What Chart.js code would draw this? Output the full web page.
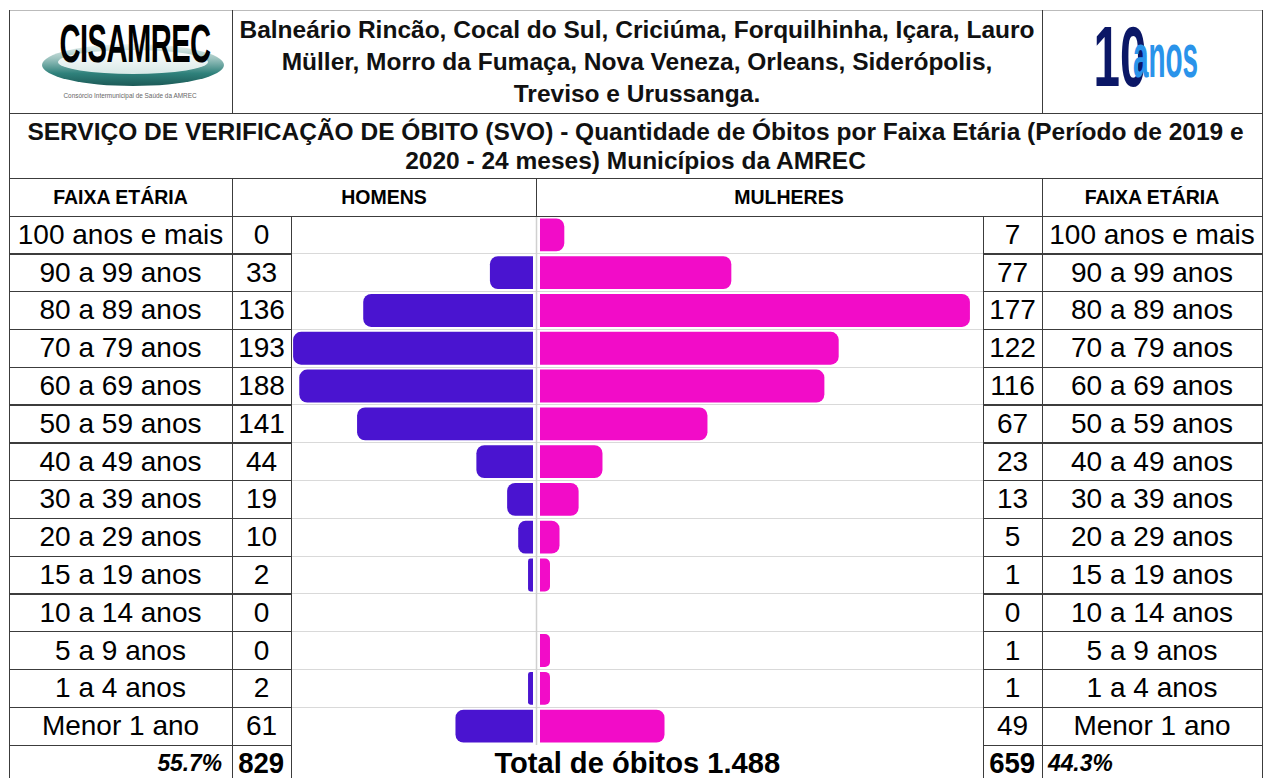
<!DOCTYPE html>
<html>
<head>
<meta charset="utf-8">
<script src="https://cdn.jsdelivr.net/npm/chart.js@4.4.0/dist/chart.umd.min.js"></script>
<style>
  body { margin: 0; background: #fff; font-family: 'Liberation Sans', Arial, sans-serif; color: #000; }
  #page { position: relative; width: 1266px; height: 778px; overflow: hidden; }
  .ln { position: absolute; background: #3c3c3c; }
  .t { position: absolute; text-align: center; white-space: nowrap; }
  .cell { position: absolute; display: flex; align-items: center; justify-content: center; white-space: nowrap; }
  #chartBox { position: absolute; left: 291px; top: 216px; width: 692px; height: 529px; }
</style>
</head>
<body>
<div id="page">
  <!-- logo cisamrec -->
  <div style="position:absolute;left:42px;top:44px;width:182px;height:42px;border-radius:50%;
       background:linear-gradient(to bottom,#eef4f3 0%,#9cc3bf 35%,#2f817b 70%,#1c5a57 100%);"></div>
  <div style="position:absolute;left:58px;top:50px;width:150px;height:24px;border-radius:50%;
       background:linear-gradient(to bottom,#ffffff,#d7e8e6);"></div>
  <div class="t" style="left:-25px;top:14px;width:320px;font-weight:bold;font-size:53px;line-height:60px;
       transform:scaleX(0.55);transform-origin:center;letter-spacing:-1px;">CISAMREC</div>
  <div class="t" style="left:0px;top:91px;width:260px;font-size:8px;color:#666;transform:scaleX(0.8);">Consórcio Intermunicipal de Saúde da AMREC</div>

  <!-- logo 10 anos -->
  <div class="t" style="left:1070px;top:12px;width:100px;font-weight:bold;font-size:85px;line-height:90px;color:#0b1766;
       transform:scaleX(0.56);transform-origin:center;">10</div>
  <div class="t" style="left:1100px;top:21px;width:120px;font-weight:bold;font-size:62px;line-height:70px;color:#2a93ea;
       transform:scaleX(0.45);transform-origin:center;">anos</div>

  <!-- header texts -->
  <div class="t" style="left:232px;top:14px;width:810px;font-weight:bold;font-size:24.5px;line-height:32px;color:#111;">
    Balneário Rincão, Cocal do Sul, Criciúma, Forquilhinha, Içara, Lauro<br>Müller, Morro da Fumaça, Nova Veneza, Orleans, Siderópolis,<br>Treviso e Urussanga.</div>
  <div class="t" style="left:9px;top:117px;width:1253px;font-weight:bold;font-size:24.5px;line-height:29px;color:#111;">
    SERVIÇO DE VERIFICAÇÃO DE ÓBITO (SVO) - Quantidade de Óbitos por Faixa Etária (Período de 2019 e<br>2020 - 24 meses) Municípios da AMREC</div>

  <div class="cell" style="left:9px;top:178px;width:223px;height:38px;font-weight:bold;font-size:19.5px;">FAIXA ETÁRIA</div>
  <div class="cell" style="left:232px;top:178px;width:304px;height:38px;font-weight:bold;font-size:19.5px;">HOMENS</div>
  <div class="cell" style="left:536px;top:178px;width:506px;height:38px;font-weight:bold;font-size:19.5px;">MULHERES</div>
  <div class="cell" style="left:1042px;top:178px;width:220px;height:38px;font-weight:bold;font-size:19.5px;">FAIXA ETÁRIA</div>

  <div id="rows"></div>

  <div id="chartBox"><canvas id="pyramid" width="692" height="529"></canvas></div>

  <!-- footer -->
  <div class="cell" id="pctH" style="left:9px;top:745px;width:213px;height:36px;justify-content:flex-end;font-weight:bold;font-style:italic;font-size:24px;"></div>
  <div class="cell" id="totH" style="left:232px;top:745px;width:59px;height:36px;font-weight:bold;font-size:29px;"></div>
  <div class="cell" id="totAll" style="left:291px;top:745px;width:692px;height:36px;font-weight:bold;font-size:30px;"></div>
  <div class="cell" id="totM" style="left:983px;top:745px;width:59px;height:36px;font-weight:bold;font-size:29px;"></div>
  <div class="cell" id="pctM" style="left:1048px;top:745px;width:200px;height:36px;justify-content:flex-start;font-weight:bold;font-style:italic;font-size:24px;"></div>

  <div id="lines"></div>
</div>

<script>
var faixas = ['100 anos e mais', '90 a 99 anos', '80 a 89 anos', '70 a 79 anos', '60 a 69 anos',
  '50 a 59 anos', '40 a 49 anos', '30 a 39 anos', '20 a 29 anos', '15 a 19 anos',
  '10 a 14 anos', '5 a 9 anos', '1 a 4 anos', 'Menor 1 ano'];
var homens = [0, 33, 136, 193, 188, 141, 44, 19, 10, 2, 0, 0, 2, 61];
var mulheres = [7, 77, 177, 122, 116, 67, 23, 13, 5, 1, 0, 1, 1, 49];

// table layout
var top0 = 216, rowH = 529 / faixas.length;
var rows = document.getElementById('rows');
var html = '';
faixas.forEach(function (f, i) {
  var y = top0 + i * rowH;
  html += '<div class="cell" style="left:9px;top:' + y + 'px;width:223px;height:' + rowH + 'px;font-size:28px;">' + f + '</div>';
  html += '<div class="cell" style="left:232px;top:' + y + 'px;width:59px;height:' + rowH + 'px;font-size:28px;">' + homens[i] + '</div>';
  html += '<div class="cell" style="left:983px;top:' + y + 'px;width:59px;height:' + rowH + 'px;font-size:28px;">' + mulheres[i] + '</div>';
  html += '<div class="cell" style="left:1042px;top:' + y + 'px;width:220px;height:' + rowH + 'px;font-size:28px;">' + f + '</div>';
});
rows.innerHTML = html;

var sumH = homens.reduce(function (a, b) { return a + b; }, 0);
var sumM = mulheres.reduce(function (a, b) { return a + b; }, 0);
var total = sumH + sumM;
function cond(el, txt, s) { el.innerHTML = '<span style="display:inline-block;transform:scaleX(' + s + ')">' + txt + '</span>'; }
cond(document.getElementById('pctH'), (sumH / total * 100).toFixed(1) + '%', 0.95);
cond(document.getElementById('totH'), sumH, 0.95);
cond(document.getElementById('totM'), sumM, 0.95);
cond(document.getElementById('pctM'), (sumM / total * 100).toFixed(1) + '%', 0.95);
cond(document.getElementById('totAll'), 'Total de óbitos ' + total.toLocaleString('pt-BR'), 0.97);
document.querySelector('#pctM span').style.transformOrigin = 'left';
document.querySelector('#pctH span').style.transformOrigin = 'right';

// grid lines of the table
var L = [];
function hl(x1, x2, y, c) { L.push('<div class="ln" style="left:' + x1 + 'px;top:' + (y - 0.5) + 'px;width:' + (x2 - x1) + 'px;height:1.3px;' + (c ? 'background:' + c : '') + '"></div>'); }
function vl(x, y1, y2) { L.push('<div class="ln" style="left:' + (x - 0.5) + 'px;top:' + y1 + 'px;width:1.3px;height:' + (y2 - y1) + 'px;"></div>'); }
hl(9, 1262, 10, '#bbb');
hl(9, 1262, 113); hl(9, 1262, 178); hl(9, 1262, 216);
for (var k = 1; k <= faixas.length; k++) {
  var yy = top0 + k * rowH;
  hl(9, 291, yy); hl(983, 1262, yy);
}
vl(9, 10, 778); vl(1262, 10, 778);
vl(232, 10, 113); vl(1042, 10, 113);
vl(232, 178, 778); vl(1042, 178, 778);
vl(536, 178, 216);
vl(291, 216, 778); vl(983, 216, 778);
document.getElementById('lines').innerHTML = L.join('');

// pyramid
var W = 692;
var zeroM = 239.5, pxM = 1.23;    // men axis: pixel of zero and px per death
var zeroW = 256.6, pxW = 2.386;   // women axis

var ctx = document.getElementById('pyramid');
var centerLine = {
  id: 'centerLine',
  afterDatasetsDraw: function (chart) {
    var c = chart.ctx, a = chart.chartArea;
    c.save();
    c.strokeStyle = '#d0d0d0';
    c.lineWidth = 1.5;
    c.beginPath();
    c.moveTo(245.5, a.top);
    c.lineTo(245.5, a.bottom);
    c.stroke();
    c.restore();
  }
};

var myPyramid = new Chart(ctx, {
  type: 'bar',
  data: {
    labels: faixas,
    datasets: [
      {
        label: 'Homens',
        data: homens.map(function (v) { return v ? -v : null; }),
        xAxisID: 'xm',
        base: 2.03,
        grouped: false,
        backgroundColor: '#4a14d0',
        borderRadius: 8,
        barPercentage: 0.87,
        categoryPercentage: 1
      },
      {
        label: 'Mulheres',
        data: mulheres.map(function (v) { return v ? v : null; }),
        xAxisID: 'xw',
        base: -3.19,
        grouped: false,
        backgroundColor: '#f20cc8',
        borderRadius: 8,
        barPercentage: 0.87,
        categoryPercentage: 1
      }
    ]
  },
  options: {
    indexAxis: 'y',
    responsive: false,
    animation: false,
    layout: { padding: 0 },
    plugins: { legend: { display: false }, tooltip: { enabled: false } },
    scales: {
      y: {
        grid: { color: '#d9d9d9', drawTicks: false, offset: true },
        border: { display: false },
        ticks: { display: false }
      },
      xm: { type: 'linear', display: false, min: -zeroM / pxM, max: (W - zeroM) / pxM },
      xw: { type: 'linear', display: false, min: -zeroW / pxW, max: (W - zeroW) / pxW }
    }
  },
  plugins: [centerLine]
});
</script>
</body>
</html>
